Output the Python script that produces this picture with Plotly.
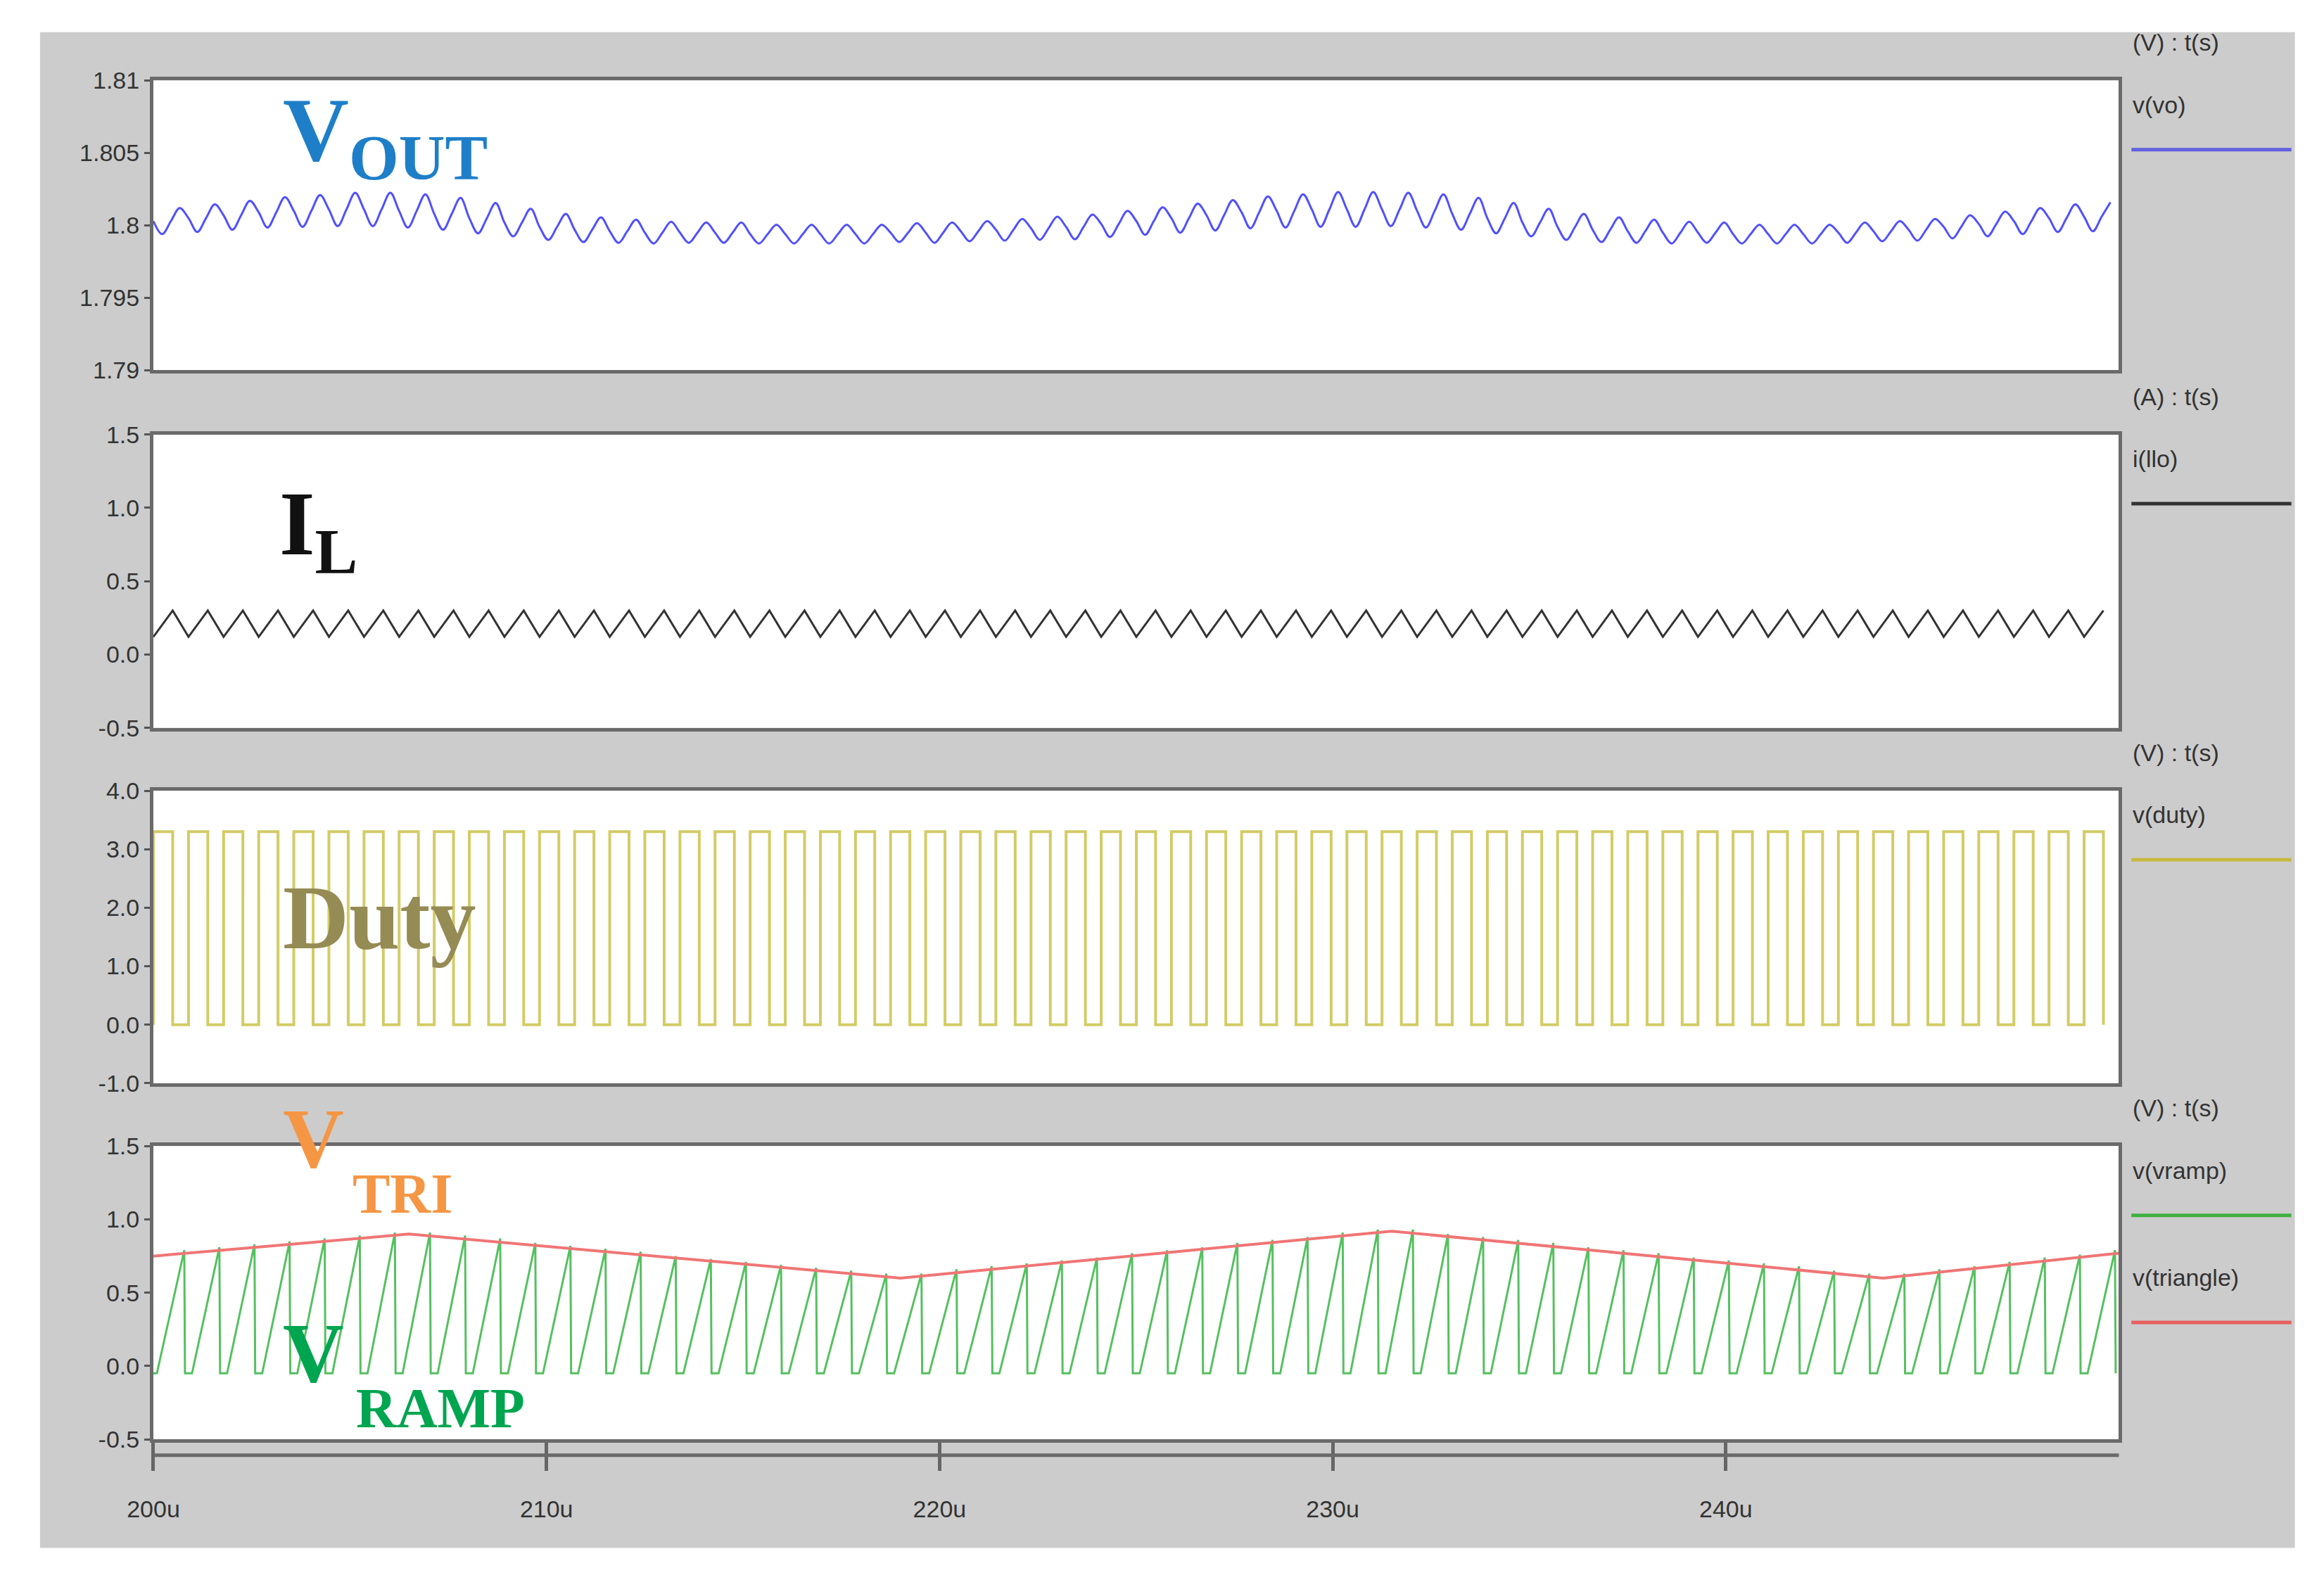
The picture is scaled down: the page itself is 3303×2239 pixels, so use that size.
import plotly.graph_objects as go

W, H = 3303, 2239
OX, OY = 27, 21  # page offset compensation (px)
# ---------------- data ----------------
t_start_us = 200.0
t_end_us = 250.0
switch_period_us = 0.893
n_cycles = 56

vout_mid = [1.8003,1.8005,1.8007,1.8009,1.8010,1.8011,1.8011,1.8010,1.8008,1.8005,
            1.8002,1.7999,1.7997,1.7996,1.7995,1.7995,1.7995,1.7994,1.7994,1.7994,
            1.7994,1.7995,1.7995,1.7996,1.7997,1.7998,1.7999,1.8001,1.8003,1.8005,
            1.8007,1.8009,1.8010,1.8011,1.8011,1.8011,1.8010,1.8008,1.8005,1.8002,
            1.7999,1.7997,1.7996,1.7995,1.7995,1.7994,1.7994,1.7994,1.7995,1.7996,
            1.7997,1.7999,1.8001,1.8003,1.8005,1.8006]
vout_pp = [0.0018,0.0019,0.0020,0.0021,0.0022,0.0023,0.0023,0.0023,0.0022,0.0021,
           0.0019,0.0018,0.0017,0.0016,0.0015,0.0014,0.0014,0.0013,0.0013,0.0013,
           0.0013,0.0013,0.0014,0.0014,0.0015,0.0016,0.0017,0.0018,0.0019,0.0020,
           0.0021,0.0022,0.0023,0.0024,0.0024,0.0023,0.0023,0.0022,0.0021,0.0019,
           0.0018,0.0017,0.0016,0.0015,0.0014,0.0013,0.0013,0.0013,0.0014,0.0014,
           0.0015,0.0016,0.0017,0.0018,0.0019,0.0020]
il_peak = 0.30
il_valley = 0.12
duty_high = 3.3
duty_low = 0.0
duty_fraction = 0.55
ramp_valley = -0.05
ramp_peak = [0.79,0.81,0.83,0.85,0.87,0.89,0.91,0.91,0.89,0.87,
             0.84,0.82,0.80,0.78,0.75,0.73,0.71,0.69,0.67,0.65,
             0.63,0.63,0.66,0.68,0.70,0.72,0.74,0.77,0.79,0.81,
             0.84,0.86,0.88,0.91,0.93,0.93,0.90,0.88,0.86,0.84,
             0.81,0.79,0.77,0.74,0.72,0.70,0.68,0.65,0.63,0.63,
             0.66,0.68,0.71,0.74,0.76,0.79]
tri_t = [200.0, 206.5, 219.0, 231.5, 244.0, 250.0]
tri_v = [0.75, 0.90, 0.60, 0.92, 0.60, 0.77]
x_ticks = [200, 210, 220, 230, 240]
x_tick_text = ["200u", "210u", "220u", "230u", "240u"]

# ---------------- build traces ----------------
vx, vy, ix, iy, dx, dy, rx, ry = [], [], [], [], [], [], [], []
for k in range(n_cycles):
    t0 = t_start_us + k * switch_period_us
    T = switch_period_us
    vx += [t0, t0 + 0.25 * T, t0 + 0.5 * T, t0 + 0.75 * T]
    vy += [vout_mid[k], vout_mid[k] - vout_pp[k] / 2, vout_mid[k], vout_mid[k] + vout_pp[k] / 2]
    ix += [t0, t0 + duty_fraction * T]
    iy += [il_valley, il_peak]
    dx += [t0, t0, t0 + duty_fraction * T, t0 + duty_fraction * T]
    dy += [duty_low, duty_high, duty_high, duty_low]
    rx += [t0, t0 + 0.1 * T, t0 + 0.88 * T, t0 + 0.9 * T]
    ry += [ramp_valley, ramp_valley, ramp_peak[k], ramp_valley]

fig = go.Figure()
fig.add_trace(go.Scatter(x=vx, y=vy, mode="lines", line=dict(color="#5050ff", width=3, shape="spline"), xaxis="x", yaxis="y"))
fig.add_trace(go.Scatter(x=ix, y=iy, mode="lines", line=dict(color="#333333", width=3), xaxis="x2", yaxis="y2"))
fig.add_trace(go.Scatter(x=dx, y=dy, mode="lines", line=dict(color="#d2cc66", width=4), xaxis="x3", yaxis="y3"))
fig.add_trace(go.Scatter(x=rx, y=ry, mode="lines", line=dict(color="#55c060", width=3), xaxis="x4", yaxis="y4"))
fig.add_trace(go.Scatter(x=tri_t, y=tri_v, mode="lines", line=dict(color="#f07575", width=4), xaxis="x4", yaxis="y4"))

def px(x):
    return (x - OX) / W
def py(y):
    return 1 - (y - OY) / H

xd = [px(201), px(3027)]
panels = [(110, 529), (622, 1046), (1137, 1560), (1651, 2075)]
yr = [[1.79, 1.81], [-0.5, 1.5], [-1.0, 4.0], [-0.5, 1.5]]
ytv = [[1.79, 1.795, 1.8, 1.805, 1.81], [-0.5, 0, 0.5, 1, 1.5], [-1, 0, 1, 2, 3, 4], [-0.5, 0, 0.5, 1, 1.5]]
ytt = [["1.79", "1.795", "1.8", "1.805", "1.81"],
       ["-0.5", "0.0", "0.5", "1.0", "1.5"],
       ["-1.0", "0.0", "1.0", "2.0", "3.0", "4.0"],
       ["-0.5", "0.0", "0.5", "1.0", "1.5"]]
tickfont = dict(family="Liberation Sans", size=34, color="#333333")
lay = {}
shapes = [dict(type="rect", xref="paper", yref="paper", x0=px(38), x1=px(3280), y0=py(2232), y1=py(40),
               fillcolor="#cccccc", line=dict(width=0), layer="below")]
for i, (top, bot) in enumerate(panels):
    s = "" if i == 0 else str(i + 1)
    shapes.append(dict(type="rect", xref="paper", yref="paper", x0=xd[0], x1=xd[1], y0=py(bot), y1=py(top),
                       fillcolor="white", line=dict(width=0), layer="below"))
    lay["xaxis" + s] = dict(domain=xd, range=[t_start_us, t_end_us], anchor="y" + s,
                            showgrid=False, zeroline=False, showline=True, mirror=True,
                            linecolor="#6a6a6a", linewidth=5,
                            tickvals=x_ticks, ticktext=x_tick_text if i == 3 else [""] * 5,
                            ticks="outside" if i == 3 else "", ticklen=40, tickwidth=5, tickcolor="#666",
                            ticklabelstandoff=25, tickfont=tickfont)
    lay["yaxis" + s] = dict(domain=[py(bot), py(top)], range=yr[i], anchor="x" + s,
                            showgrid=False, zeroline=False, showline=True, mirror=True,
                            linecolor="#6a6a6a", linewidth=5,
                            tickvals=ytv[i], ticktext=ytt[i], ticks="outside", ticklen=8,
                            tickwidth=3, tickcolor="#555", tickfont=tickfont)
# secondary time-axis line under bottom panel
shapes.append(dict(type="line", xref="paper", yref="paper", x0=xd[0], x1=xd[1], y0=py(2098), y1=py(2098),
                   line=dict(color="#6a6a6a", width=5)))

annots = []
right_info = [("(V) : t(s)", [("v(vo)", "#6060e0")]),
              ("(A) : t(s)", [("i(llo)", "#333333")]),
              ("(V) : t(s)", [("v(duty)", "#c8b840")]),
              ("(V) : t(s)", [("v(vramp)", "#40b040"), ("v(triangle)", "#e86060")])]
for i, (top, bot) in enumerate(panels):
    unit, items = right_info[i]
    annots.append(dict(x=px(3045), y=py(top - 55), xref="paper", yref="paper", text=unit,
                       showarrow=False, xanchor="left", yanchor="middle", font=tickfont))
    for j, (nm, col) in enumerate(items):
        yy = top + 35 + j * 155
        annots.append(dict(x=px(3045), y=py(yy), xref="paper", yref="paper", text=nm,
                           showarrow=False, xanchor="left", yanchor="middle", font=tickfont))
        shapes.append(dict(type="line", xref="paper", yref="paper", x0=px(3045), x1=px(3275),
                           y0=py(yy + 65), y1=py(yy + 65), line=dict(color=col, width=5)))

serif = "Liberation Serif"
def big(x, y, text, col, size):
    annots.append(dict(x=px(x), y=py(y), xref="paper", yref="paper", text=text, showarrow=False,
                       xanchor="left", yanchor="middle", font=dict(family=serif, size=size, color=col)))
big(385, 190, "<b>V<sub>OUT</sub></b>", "#1e7fc8", 130)
big(380, 760, "<b>I<sub>L</sub></b>", "#111111", 130)
big(385, 1320, "<b>Duty</b>", "#958b54", 130)
big(385, 1640, "<b>V</b>", "#f59645", 120)
big(485, 1720, "<b>TRI</b>", "#f59645", 80)
big(385, 1950, "<b>V</b>", "#00a550", 120)
big(490, 2030, "<b>RAMP</b>", "#00a550", 80)

fig.update_layout(width=W, height=H, margin=dict(l=0, r=0, t=0, b=0), paper_bgcolor="white",
                  plot_bgcolor="white", showlegend=False, shapes=shapes, annotations=annots, **lay)
fig.write_html("out.html")
